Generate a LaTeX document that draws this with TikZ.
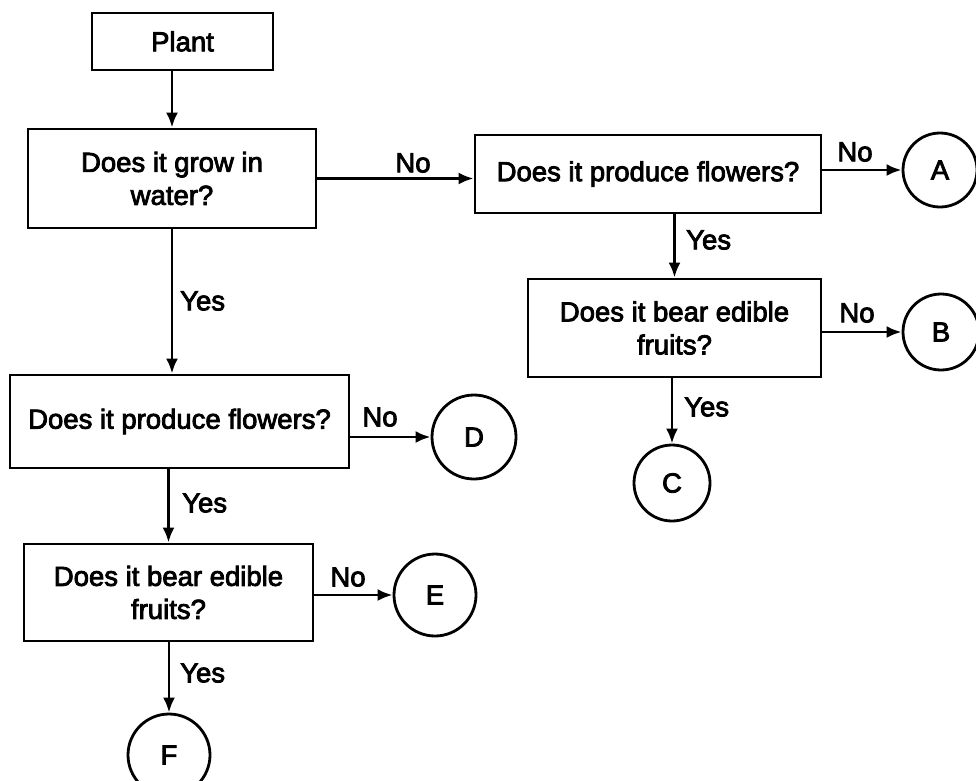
\documentclass[tikz,border=0pt]{standalone}
\usepackage{fontspec}
\setmainfont{Liberation Sans}
\newfontfamily\chartfont[FakeBold=3]{Liberation Sans}
\usetikzlibrary{arrows.meta}
\begin{document}
\begin{tikzpicture}[x=1pt,y=-1pt,
  every node/.style={font=\chartfont\fontsize{27.5}{33}\selectfont},
  qbox/.style={draw, line width=2.8pt, rectangle, align=center, inner sep=0pt},
  endc/.style={draw, line width=2.8pt, circle, inner sep=0pt},
  lbl/.style={inner sep=0pt},
  arr/.style={line width=2.8pt, -{Latex[length=15pt,width=12pt]}}
]
\useasboundingbox (0,0) rectangle (976,780);

% question boxes
\node[qbox, minimum width=181pt, minimum height=57pt] (plant) at (182.5,41.5) {Plant};
\node[qbox, minimum width=288pt, minimum height=99pt] (grow) at (172,178.5) {Does it grow in\\water?};
\node[qbox, minimum width=346pt, minimum height=78pt] (flowR) at (648,174) {Does it produce flowers?};
\node[qbox, minimum width=293pt, minimum height=98pt] (fruitR) at (674.5,328) {Does it bear edible\\fruits?};
\node[qbox, minimum width=339pt, minimum height=93pt] (flowL) at (179.5,421.5) {Does it produce flowers?};
\node[qbox, minimum width=289pt, minimum height=97pt] (fruitL) at (168.5,592.5) {Does it bear edible\\fruits?};

% outcome circles
\node[endc, minimum size=74pt] (A) at (940,170) {A};
\node[endc, minimum size=76pt] (B) at (941,332) {B};
\node[endc, minimum size=76pt] (C) at (672,483) {C};
\node[endc, minimum size=84pt] (D) at (474,437) {D};
\node[endc, minimum size=82pt] (E) at (435,595) {E};
\node[endc, minimum size=82pt] (F) at (169,755) {F};

% connectors
\draw[arr] (plant.south -| grow.north) -- (grow.north);
\draw[arr] (grow.east) -- (grow.east -| flowR.west);
\draw[arr] (flowR.east |- A.west) -- (A.west);
\draw[arr] (flowR.south -| fruitR.north) -- (fruitR.north);
\draw[arr] (fruitR.east |- B.west) -- (B.west);
\draw[arr] (fruitR.south -| C.north) -- (C.north);
\draw[arr] (grow.south) -- (grow.south |- flowL.north);
\draw[arr] (flowL.east |- D.west) -- (D.west);
\draw[arr] (flowL.south -| fruitL.north) -- (fruitL.north);
\draw[arr] (fruitL.east |- E.west) -- (E.west);
\draw[arr] (fruitL.south -| F.north) -- (F.north);

% branch labels
\node[lbl] (n1) at (413,163) {No};
\node[lbl] (n2) at (855,152) {No};
\node[lbl] (n3) at (857,313) {No};
\node[lbl] (n4) at (380,417) {No};
\node[lbl] (n5) at (348,577) {No};
\node[lbl, anchor=west] (y1) at (686,240) {Yes};
\node[lbl, anchor=west] (y2) at (684,407) {Yes};
\node[lbl, anchor=west] (y3) at (180,301) {Yes};
\node[lbl, anchor=west] (y4) at (182,503) {Yes};
\node[lbl, anchor=west] (y5) at (180,673) {Yes};
\end{tikzpicture}
\end{document}
